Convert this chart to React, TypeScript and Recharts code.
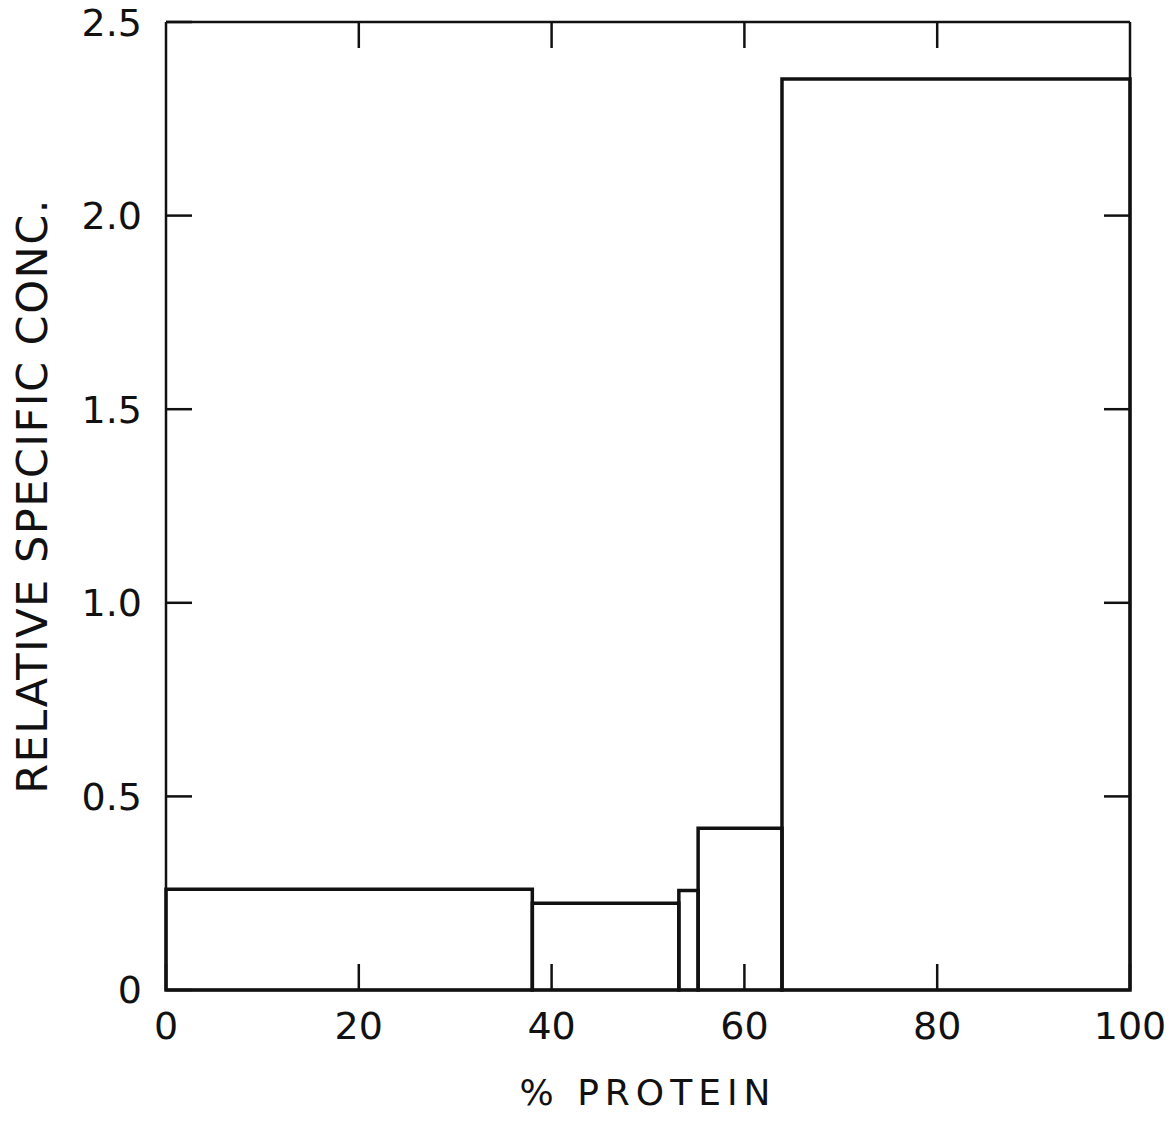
import React from "react";
import {
  ComposedChart,
  XAxis,
  YAxis,
  ReferenceArea,
  Label,
} from "recharts";

// bin edges along % protein, and the relative specific concentration of each bin
const binEdges = [0, 38.0, 53.2, 55.2, 63.9, 100];
const binValues = [0.26, 0.224, 0.257, 0.418, 2.353];

const xTicks = [0, 20, 40, 60, 80, 100];
const yTicks = [0, 0.5, 1.0, 1.5, 2.0, 2.5];
const innerXTicks = [20, 40, 60, 80];
const innerYTicks = [0.5, 1.0, 1.5, 2.0];

const FONT = "'DejaVu Sans', 'Liberation Sans', sans-serif";
const INK = "#111";

const bins = binValues.map((v, i) => ({
  x1: binEdges[i],
  x2: binEdges[i + 1],
  value: v,
}));

function YTitle(props: any) {
  const { viewBox } = props;
  const cx = viewBox.x + 24;
  const cy = viewBox.y + viewBox.height / 2 - 10;
  return (
    <text
      x={cx}
      y={cy}
      transform={`rotate(-90, ${cx}, ${cy})`}
      textAnchor="middle"
      dominantBaseline="central"
      fontSize={43}
      letterSpacing={1.5}
      fill={INK}
      fontFamily={FONT}
    >
      RELATIVE SPECIFIC CONC.
    </text>
  );
}

const frame = { stroke: INK, strokeWidth: 2.5 };
const noLabel = () => "";

export default function App() {
  return (
    <div style={{ background: "#fff", width: 1158, height: 1106 }}>
      <ComposedChart
        width={1158}
        height={1106}
        data={bins}
        margin={{ top: 13, right: 35, bottom: 0, left: 0 }}
        style={{ fontFamily: FONT, overflow: "visible" }}
      >
        <XAxis
          type="number"
          dataKey="x1"
          domain={[0, 100]}
          ticks={xTicks}
          interval={0}
          height={124}
          axisLine={frame}
          tickLine={frame}
          tickSize={-26}
          tickMargin={48}
          tick={{ fontSize: 38, fill: INK, fontFamily: FONT }}
        >
          <Label
            value="% PROTEIN"
            position="insideBottom"
            offset={9}
            fontSize={36}
            letterSpacing={6}
            fill={INK}
            fontFamily={FONT}
          />
        </XAxis>
        <XAxis
          xAxisId="top"
          orientation="top"
          type="number"
          dataKey="x1"
          domain={[0, 100]}
          ticks={innerXTicks}
          interval={0}
          height={1}
          axisLine={frame}
          tickLine={frame}
          tickSize={-26}
          tickFormatter={noLabel}
        />
        <YAxis
          type="number"
          dataKey="value"
          domain={[0, 2.5]}
          ticks={yTicks}
          interval={0}
          width={158}
          axisLine={frame}
          tickLine={frame}
          tickSize={-26}
          tickMargin={50}
          tickFormatter={(v: number) => (v === 0 ? "0" : v.toFixed(1))}
          tick={{ fontSize: 38, fill: INK, fontFamily: FONT }}
        >
          <Label content={<YTitle />} />
        </YAxis>
        <YAxis
          yAxisId="right"
          orientation="right"
          type="number"
          dataKey="value"
          domain={[0, 2.5]}
          ticks={innerYTicks}
          interval={0}
          width={1}
          axisLine={frame}
          tickLine={frame}
          tickSize={-26}
          tickFormatter={noLabel}
        />
        {bins.map((b) => (
          <ReferenceArea
            key={b.x1}
            x1={b.x1}
            x2={b.x2}
            y1={0}
            y2={b.value}
            fill="none"
            fillOpacity={0}
            stroke={INK}
            strokeWidth={3.5}
            strokeOpacity={1}
            ifOverflow="visible"
          />
        ))}
      </ComposedChart>
    </div>
  );
}
